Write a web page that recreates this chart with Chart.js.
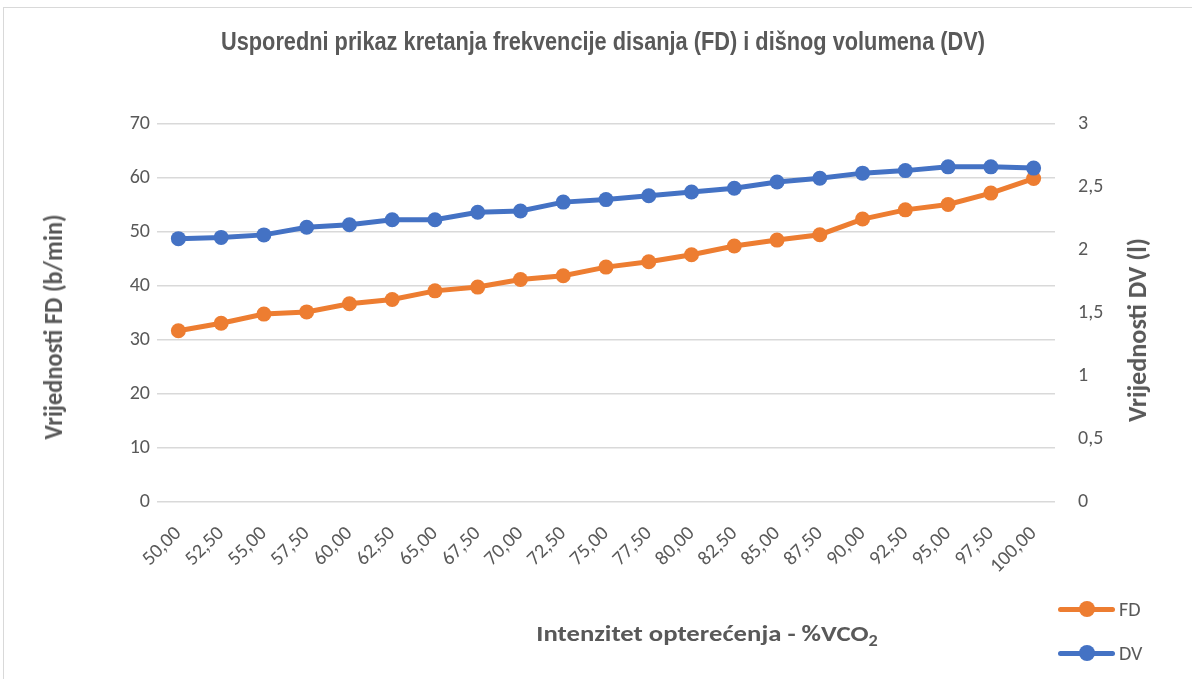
<!DOCTYPE html>
<html>
<head>
<meta charset="utf-8">
<script src="https://cdn.jsdelivr.net/npm/chart.js@4.4.1/dist/chart.umd.min.js"></script>
<style>
  body { margin: 0; background: #ffffff; }
  #wrap { position: relative; width: 1192px; height: 679px; overflow: hidden; background: #fff; }
  #frame { position: absolute; left: 3px; top: 7px; width: 1300px; height: 800px; border: 1px solid #d9d9d9; box-sizing: border-box; }
  #myChart { position: absolute; left: 0; top: 0; }
  .label { position: absolute; color: #595959; font-weight: bold; white-space: nowrap; }
  #chart-title { left: 603px; top: 29px; font-family: "Liberation Sans", Arial, sans-serif; font-size: 25px; line-height: 25px; }
  .axis-title { font-family: Carlito, Lato, "Open Sans", sans-serif; }
  #x-title { left: 707px; top: 623px; font-size: 22px; line-height: 22px; }
  #x-title sub { font-size: 15px; line-height: 0; vertical-align: -5px; }
  #y1-title { left: 53px; top: 327px; font-size: 26px; line-height: 26px; }
  #y2-title { left: 1137px; top: 330px; font-size: 26px; line-height: 26px; }
  #legend { position: absolute; left: 1058px; top: 587px; font-family: Carlito, Lato, "Open Sans", sans-serif; font-size: 20px; color: #595959; }
  .legend-item { position: relative; height: 44px; }
  .legend-line { position: absolute; left: 0; top: 20px; width: 57px; height: 5px; border-radius: 3px; }
  .legend-dot { position: absolute; left: 21px; top: 14px; width: 16px; height: 16px; border-radius: 50%; }
  .legend-text { position: absolute; left: 61px; top: 11px; line-height: 22px; }
</style>
</head>
<body>
<div id="wrap">
  <div id="frame"></div>
  <canvas id="myChart" width="1192" height="679"></canvas>
  <div class="label" id="chart-title">Usporedni prikaz kretanja frekvencije disanja (FD) i dišnog volumena (DV)</div>
  <div class="label axis-title" id="x-title">Intenzitet opterećenja - %VCO<sub>2</sub></div>
  <div class="label axis-title" id="y1-title">Vrijednosti FD (b/min)</div>
  <div class="label axis-title" id="y2-title">Vrijednosti DV (l)</div>
  <div id="legend"></div>
</div>
<script>
// data
const categories = ['50,00', '52,50', '55,00', '57,50', '60,00', '62,50', '65,00', '67,50', '70,00', '72,50',
    '75,00', '77,50', '80,00', '82,50', '85,00', '87,50', '90,00', '92,50', '95,00', '97,50', '100,00'];
const fdValues = [31.7, 33.1, 34.8, 35.2, 36.7, 37.5, 39.1, 39.8, 41.2, 41.9,
    43.5, 44.5, 45.8, 47.4, 48.5, 49.5, 52.4, 54.1, 55.1, 57.2, 59.9];
const dvValues = [2.09, 2.10, 2.12, 2.18, 2.20, 2.24, 2.24, 2.30, 2.31, 2.38,
    2.40, 2.43, 2.46, 2.49, 2.54, 2.57, 2.61, 2.63, 2.66, 2.66, 2.65];
const leftTicks = [0, 10, 20, 30, 40, 50, 60, 70];
const rightTicks = [0, 0.5, 1, 1.5, 2, 2.5, 3];

const textColor = '#595959';
const gridColor = '#d9d9d9';
const fontFamily = 'Carlito, Lato, "Open Sans", sans-serif';

//function to format numbers with decimal comma
function commaNumber(value) {
    return String(value).replace('.', ',');
}

function makeSeries(label, data, color, axis) {
    return {
        label: label,
        data: data,
        yAxisID: axis,
        borderColor: color,
        backgroundColor: color,
        borderWidth: 5,
        pointRadius: 7.5,
        pointHoverRadius: 7.5,
        pointBorderWidth: 0,
        tension: 0
    };
}

//function to stretch a text block so it spans the same length as in the picture
function fitText(id, length, rotated) {
    const el = document.getElementById(id);
    const k = length / el.offsetWidth;
    if (rotated) {
        el.style.transform = 'translate(-50%, -50%) rotate(-90deg) scaleX(' + k + ')';
    } else {
        el.style.transform = 'translateX(-50%) scaleX(' + k + ')';
    }
}

let myChart;

function initializeChart() {
    const ctx = document.getElementById('myChart').getContext('2d');
    myChart = new Chart(ctx, {
        type: 'line',
        data: {
            labels: categories,
            datasets: [
                makeSeries('DV', dvValues, '#4472c4', 'y2'),
                makeSeries('FD', fdValues, '#ed7d31', 'y')
            ]
        },
        options: {
            responsive: false,
            animation: false,
            layout: { padding: { top: 124, left: 0, right: 0, bottom: 0 } },
            plugins: {
                legend: { display: false },
                tooltip: { enabled: false },
                title: { display: false }
            },
            scales: {
                x: {
                    offset: true,
                    grid: { display: false },
                    border: { display: false },
                    ticks: {
                        color: textColor,
                        font: { family: fontFamily, size: 20 },
                        minRotation: 45,
                        maxRotation: 45,
                        autoSkip: false,
                        padding: 12
                    },
                    afterFit: function (scale) { scale.height = 177; }
                },
                y: {
                    position: 'left',
                    min: leftTicks[0],
                    max: leftTicks[leftTicks.length - 1],
                    afterBuildTicks: function (scale) {
                        scale.ticks = leftTicks.map(function (v) { return { value: v }; });
                    },
                    grid: { color: gridColor, lineWidth: 1.5, drawTicks: false },
                    border: { display: false },
                    ticks: { color: textColor, font: { family: fontFamily, size: 20 }, padding: 7 },
                    afterFit: function (scale) { scale.width = 157; }
                },
                y2: {
                    position: 'right',
                    min: rightTicks[0],
                    max: rightTicks[rightTicks.length - 1],
                    afterBuildTicks: function (scale) {
                        scale.ticks = rightTicks.map(function (v) { return { value: v }; });
                    },
                    grid: { display: false, drawTicks: false },
                    border: { display: false },
                    ticks: {
                        color: textColor,
                        font: { family: fontFamily, size: 20 },
                        padding: 23,
                        callback: function (value) { return commaNumber(value); }
                    },
                    afterFit: function (scale) { scale.width = 137; }
                }
            }
        }
    });
    buildLegend();
}

//function to build the legend from the chart datasets (FD first, then DV)
function buildLegend() {
    const legend = document.getElementById('legend');
    const order = ['FD', 'DV'];
    order.forEach(function (name) {
        const ds = myChart.data.datasets.find(function (d) { return d.label === name; });
        const item = document.createElement('div');
        item.className = 'legend-item';
        item.innerHTML = '<span class="legend-line" style="background:' + ds.borderColor + '"></span>' +
            '<span class="legend-dot" style="background:' + ds.borderColor + '"></span>' +
            '<span class="legend-text">' + ds.label + '</span>';
        legend.appendChild(item);
    });
}

initializeChart();
fitText('chart-title', 764, false);
fitText('x-title', 341, false);
fitText('y1-title', 225, true);
fitText('y2-title', 184, true);
</script>
</body>
</html>
